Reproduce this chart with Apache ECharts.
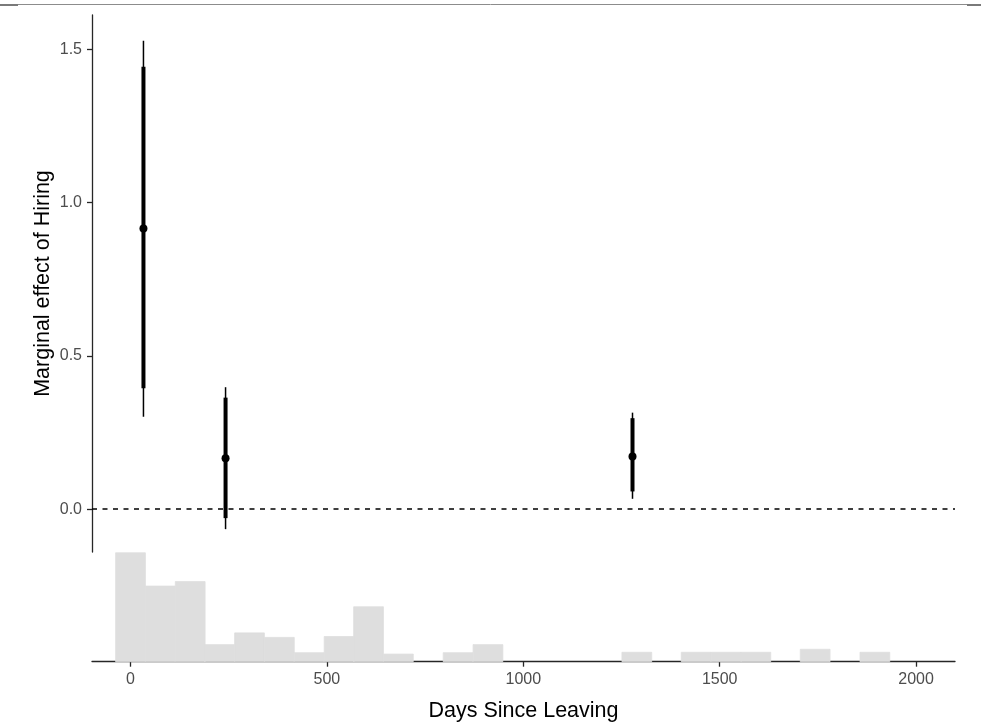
<!DOCTYPE html>
<html>
<head>
<meta charset="utf-8">
<title>Marginal effect of Hiring</title>
<script src="https://cdn.jsdelivr.net/npm/echarts@6/dist/echarts.min.js"></script>
<style>
  html, body { margin: 0; padding: 0; background: #fff; }
  #chart { width: 981px; height: 725px; }
</style>
</head>
<body>
<div id="chart"></div>
<script>
// Point estimates at three values of the moderator
const estDays = [33, 242, 1278];
const estEffect = [0.916, 0.166, 0.172];
// Pointwise confidence interval (thick segment)
const ciLower = [0.395, -0.029, 0.058];
const ciUpper = [1.443, 0.364, 0.297];
// Wider interval (thin segment)
const wideLower = [0.302, -0.065, 0.034];
const wideUpper = [1.528, 0.398, 0.315];

// Distribution of the moderator (bin centres and bar heights)
const binWidth = 75.8;
const binCenters = [0, 76, 152, 227, 303, 379, 455, 531, 606, 682, 834, 910, 1289, 1440, 1516, 1592, 1743, 1895];
const binCounts = [12.1, 8.4, 8.9, 1.9, 3.2, 2.7, 1.0, 2.8, 6.1, 0.85, 1.0, 1.9, 1.05, 1.05, 1.05, 1.05, 1.38, 1.05];

// Axis ticks
const xTicks = [0, 500, 1000, 1500, 2000];
const yTicks = [0, 0.5, 1.0, 1.5];

const xMin = -98, xMax = 2099;
const yMin = -0.1395, yMax = 1.612;

const errorData = estDays.map((d, i) => [d, estEffect[i], ciLower[i], ciUpper[i], wideLower[i], wideUpper[i]]);
const histData = binCenters.map((c, i) => [c, binCounts[i]]);

const FONT = '"Liberation Sans", Arial, sans-serif';
const AXIS_COLOR = '#262626';
const TICK_LABEL = '#4D4D4D';
const HIST_FILL = '#DEDEDE';

const chart = echarts.init(document.getElementById('chart'), null, { renderer: 'canvas' });

chart.setOption({
  backgroundColor: '#ffffff',
  animation: false,
  textStyle: { fontFamily: FONT },
  graphic: [
    { type: 'line', shape: { x1: 0, y1: 4.5, x2: 981, y2: 4.5 }, style: { stroke: '#8c8c8c', lineWidth: 1 } },
    { type: 'line', shape: { x1: 0, y1: 5, x2: 18, y2: 5 }, style: { stroke: '#7a7a7a', lineWidth: 2 } },
    { type: 'line', shape: { x1: 967, y1: 5, x2: 981, y2: 5 }, style: { stroke: '#7a7a7a', lineWidth: 2 } }
  ],
  grid: [
    { left: 92, right: 26, top: 15, height: 537 },
    { left: 92, right: 26, top: 552, height: 109.7 }
  ],
  xAxis: [
    {
      gridIndex: 0, type: 'value', min: xMin, max: xMax, show: false
    },
    {
      gridIndex: 1, type: 'value', min: xMin, max: xMax,
      name: 'Days Since Leaving', nameLocation: 'middle', nameGap: 38,
      nameTextStyle: { color: '#000', fontSize: 21.5, fontFamily: FONT },
      axisLine: { show: true, onZero: false, lineStyle: { color: AXIS_COLOR, width: 1.3 } },
      axisTick: { show: true, length: 5, customValues: xTicks, lineStyle: { color: AXIS_COLOR, width: 1.3 } },
      axisLabel: {
        show: true, customValues: xTicks, color: TICK_LABEL, fontSize: 16, margin: 10, fontFamily: FONT,
        formatter: v => String(v)
      },
      splitLine: { show: false }
    }
  ],
  yAxis: [
    {
      gridIndex: 0, type: 'value', min: yMin, max: yMax,
      name: 'Marginal effect of Hiring', nameLocation: 'middle', nameGap: 38,
      nameMoveOverlap: false,
      nameTextStyle: { color: '#000', fontSize: 21.5, fontFamily: FONT },
      axisLine: { show: true, onZero: false, lineStyle: { color: AXIS_COLOR, width: 1.3 } },
      axisTick: { show: true, length: 5, customValues: yTicks, lineStyle: { color: AXIS_COLOR, width: 1.3 } },
      axisLabel: {
        show: true, customValues: yTicks, color: TICK_LABEL, fontSize: 16, margin: 10, fontFamily: FONT,
        formatter: v => Number(v).toFixed(1)
      },
      splitLine: { show: false }
    },
    {
      gridIndex: 1, type: 'value', min: 0, max: 12.19, show: false
    }
  ],
  series: [
    {
      type: 'custom',
      name: 'histogram',
      xAxisIndex: 1, yAxisIndex: 1,
      data: histData,
      silent: true,
      renderItem: function (params, api) {
        const c = api.value(0), h = api.value(1);
        const p0 = api.coord([c - binWidth / 2, h]);
        const p1 = api.coord([c + binWidth / 2, 0]);
        return {
          type: 'rect',
          shape: { x: p0[0], y: p0[1], width: p1[0] - p0[0], height: p1[1] - p0[1] },
          style: { fill: HIST_FILL, stroke: HIST_FILL, lineWidth: 0.8 }
        };
      }
    },
    {
      type: 'custom',
      name: 'effect',
      xAxisIndex: 0, yAxisIndex: 0,
      data: errorData,
      encode: { x: 0, y: [1, 2, 3, 4, 5] },
      silent: true,
      z: 5,
      renderItem: function (params, api) {
        const x = api.value(0);
        const pt = api.coord([x, api.value(1)]);
        const lo = api.coord([x, api.value(2)]);
        const hi = api.coord([x, api.value(3)]);
        const wlo = api.coord([x, api.value(4)]);
        const whi = api.coord([x, api.value(5)]);
        return {
          type: 'group',
          children: [
            { type: 'line', shape: { x1: whi[0], y1: whi[1], x2: wlo[0], y2: wlo[1] }, style: { stroke: '#000', lineWidth: 1.5 } },
            { type: 'line', shape: { x1: hi[0], y1: hi[1], x2: lo[0], y2: lo[1] }, style: { stroke: '#000', lineWidth: 4 } },
            { type: 'circle', shape: { cx: pt[0], cy: pt[1], r: 4 }, style: { fill: '#000' } }
          ]
        };
      },
      markLine: {
        silent: true,
        symbol: 'none',
        label: { show: false },
        lineStyle: { color: '#000', width: 1.5, type: [5, 5.5] },
        data: [{ yAxis: 0 }]
      }
    }
  ]
});
</script>
</body>
</html>
